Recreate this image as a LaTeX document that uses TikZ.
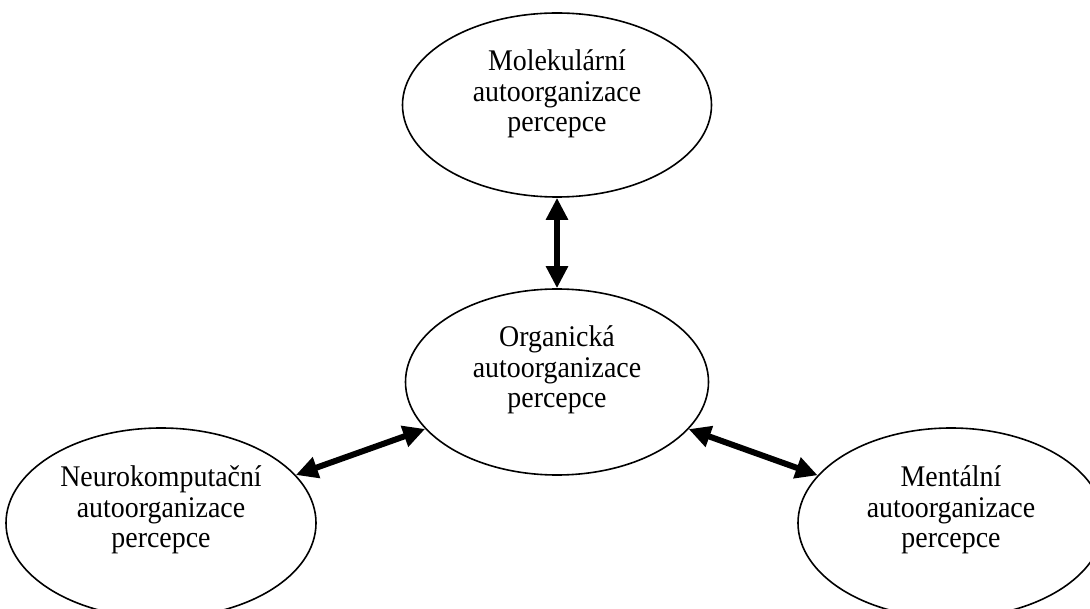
\documentclass[tikz,border=0pt]{standalone}
\usepackage{fontspec}
\setmainfont{Liberation Serif}[FakeStretch=0.93]
\usetikzlibrary{shapes.geometric,arrows.meta}
\begin{document}
\begin{tikzpicture}[x=1pt,y=-1pt,
  oval/.style={ellipse,draw,line width=1.6pt,inner sep=0pt},
  lbl/.style={align=center,font=\fontsize{30}{30.5}\selectfont,inner sep=0pt},
  link/.style={{Triangle[length=22pt,width=21pt]}-{Triangle[length=22pt,width=21pt]},line width=6pt}]
\useasboundingbox (0,0) rectangle (1090,609);
% the four levels of self-organisation
\node[oval,minimum width=309pt,minimum height=184pt] (mol) at (557,105) {};
\node[oval,minimum width=303pt,minimum height=186pt] (org) at (557,382) {};
\node[oval,minimum width=310pt,minimum height=190pt] (neu) at (161,523) {};
\node[oval,minimum width=306pt,minimum height=190pt] (men) at (951,523) {};
% labels, set slightly above each ellipse's centre
\node[lbl] (molt) at ([yshift=11pt]mol.center) {Molekulární\\autoorganizace\\percepce};
\node[lbl] (orgt) at ([yshift=12pt]org.center) {Organická\\autoorganizace\\percepce};
\node[lbl] (neut) at ([yshift=13pt]neu.center) {Neurokomputační\\autoorganizace\\percepce};
\node[lbl] (ment) at ([yshift=13pt]men.center) {Mentální\\autoorganizace\\percepce};
% two-way links to the organic level
\draw[link] (mol) -- (org);
\draw[link] (neu) -- (org);
\draw[link] (men) -- (org);
\end{tikzpicture}
\end{document}
